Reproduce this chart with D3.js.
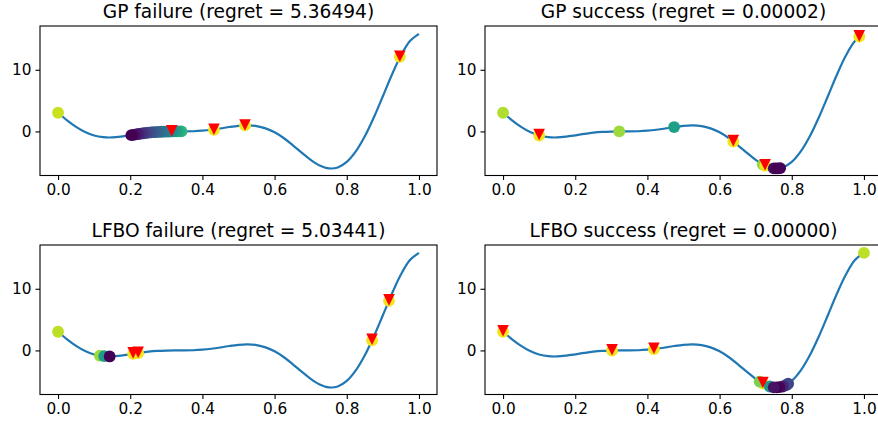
<!DOCTYPE html>
<html>
<head>
<meta charset="utf-8">
<script src="https://cdn.jsdelivr.net/npm/d3@7"></script>
<style>
  body { margin: 0; background: #fff; }
  svg { display: block; font-family: "DejaVu Sans", sans-serif; }
</style>
</head>
<body>
<div id="chart"></div>
<script>
// objective curve
var curveX = [0, 0.025, 0.05, 0.075, 0.1, 0.125, 0.15, 0.175, 0.2, 0.225, 0.25, 0.275, 0.3, 0.325, 0.35, 0.375, 0.4, 0.425, 0.45, 0.475, 0.5,
              0.525, 0.55, 0.575, 0.6, 0.625, 0.65, 0.675, 0.7, 0.725, 0.75, 0.775, 0.8, 0.825, 0.85, 0.875, 0.9, 0.925, 0.95, 0.975, 1];
var curveY = [3.03, 1.81, 0.74, -0.10, -0.66, -0.94, -0.98, -0.85, -0.64, -0.41, -0.21, -0.08, -0.02, 0.0, 0.0, 0.03, 0.12, 0.27, 0.48, 0.72, 0.91,
              0.99, 0.87, 0.50, -0.15, -1.07, -2.21, -3.44, -4.61, -5.52, -5.99, -5.85, -4.95, -3.25, -0.80, 2.27, 5.71, 9.19, 12.30, 14.65, 15.83];

var titles = ["GP failure (regret = 5.36494)", "GP success (regret = 0.00002)",
              "LFBO failure (regret = 5.03441)", "LFBO success (regret = 0.00000)"];

var xTicks = [0, 0.2, 0.4, 0.6, 0.8, 1.0];
var yTicks = [0, 10];

// evaluated points (circles, coloured by viridis value)
var gpFailX = [0, 0.432, 0.518, 0.947, 0.315, 0.342, 0.335, 0.328, 0.321, 0.314, 0.307, 0.3, 0.293, 0.286, 0.279, 0.272, 0.265, 0.258, 0.251, 0.244, 0.237, 0.23, 0.223, 0.216, 0.209, 0.203];
var gpFailY = [3.03, 0.26, 0.97, 12.1, 0.0, 0.0, 0.0, 0.0, 0.0, 0.0, -0.01, -0.02, -0.03, -0.05, -0.07, -0.1, -0.13, -0.16, -0.2, -0.25, -0.3, -0.36, -0.42, -0.48, -0.55, -0.61];
var gpFailC = [0.92, 0.98, 0.98, 0.98, 0.98, 0.66, 0.62, 0.58, 0.54, 0.5, 0.47, 0.44, 0.41, 0.38, 0.35, 0.32, 0.29, 0.26, 0.23, 0.2, 0.16, 0.13, 0.09, 0.06, 0.03, 0.0];
var gpFailTriX = [0.315, 0.432, 0.518, 0.947];
var gpFailTriY = [0.1, 0.35, 1.05, 12.2];

var gpSuccX = [0, 0.1, 0.322, 0.474, 0.638, 0.72, 0.726, 0.987, 0.75, 0.756, 0.762, 0.768];
var gpSuccY = [3.03, -0.66, 0.0, 0.71, -1.64, -5.37, -5.55, 15.38, -5.99, -6.0, -5.99, -5.95];
var gpSuccC = [0.88, 0.98, 0.85, 0.56, 0.98, 0.82, 0.98, 0.98, 0.04, 0.02, 0.0, 0.01];
var gpSuccTriX = [0.1, 0.638, 0.726, 0.987];
var gpSuccTriY = [-0.5, -1.5, -5.4, 15.5];

var lfboFailX = [0, 0.208, 0.222, 0.87, 0.917, 0.116, 0.128, 0.143];
var lfboFailY = [3.03, -0.56, -0.43, 1.62, 8.04, -0.86, -0.93, -0.98];
var lfboFailC = [0.9, 0.98, 0.98, 0.98, 0.98, 0.85, 0.55, 0.0];
var lfboFailTriX = [0.208, 0.222, 0.87, 0.917];
var lfboFailTriY = [-0.4, -0.3, 1.8, 8.2];

var lfboSuccX = [0, 0.302, 0.418, 0.72, 1.0, 0.711, 0.739, 0.79, 0.785, 0.775, 0.766, 0.758, 0.75];
var lfboSuccY = [3.03, -0.01, 0.22, -5.37, 15.83, -5.05, -5.85, -5.41, -5.61, -5.85, -5.96, -6.0, -5.99];
var lfboSuccC = [0.98, 0.98, 0.98, 0.98, 0.9, 0.8, 0.55, 0.22, 0.2, 0.1, 0.02, 0.0, 0.05];
var lfboSuccTriX = [0, 0.302, 0.418, 0.72];
var lfboSuccTriY = [3.2, 0.1, 0.35, -5.2];

var panels = [
    {title: titles[0], cx: gpFailX, cy: gpFailY, cc: gpFailC, tx: gpFailTriX, ty: gpFailTriY},
    {title: titles[1], cx: gpSuccX, cy: gpSuccY, cc: gpSuccC, tx: gpSuccTriX, ty: gpSuccTriY},
    {title: titles[2], cx: lfboFailX, cy: lfboFailY, cc: lfboFailC, tx: lfboFailTriX, ty: lfboFailTriY},
    {title: titles[3], cx: lfboSuccX, cy: lfboSuccY, cc: lfboSuccC, tx: lfboSuccTriX, ty: lfboSuccTriY}
];

var svgWidth = 878;
var svgHeight = 423;
var axW = 397, axH = 149.5;
var lefts = [40, 485];
var tops = [26, 245];

var svg = d3.select("#chart")
    .append("svg")
    .attr("width", svgWidth)
    .attr("height", svgHeight);

var xScale = d3.scaleLinear().domain([-0.05, 1.05]).range([0, axW]);
var yScale = d3.scaleLinear().domain([-7.15, 17.1]).range([axH, 0]);

var line = d3.line()
    .x(function(d, i) { return xScale(curveX[i]); })
    .y(function(d) { return yScale(d); })
    .curve(d3.curveCatmullRom.alpha(0.5));

var tri = "M0,5.8L-5.8,-5.8L5.8,-5.8Z";

panels.forEach(function(p, k) {
    var g = svg.append("g")
        .attr("transform", `translate(${lefts[k % 2]}, ${tops[Math.floor(k / 2)]})`);

    g.append("path")
        .datum(curveY)
        .attr("d", line)
        .attr("fill", "none")
        .attr("stroke", "#1f77b4")
        .attr("stroke-width", 2.2);

    g.selectAll("circle")
        .data(p.cx)
        .enter()
        .append("circle")
        .attr("cx", d => xScale(d))
        .attr("cy", (d, i) => yScale(p.cy[i]))
        .attr("r", 5.9)
        .attr("fill", (d, i) => d3.interpolateViridis(p.cc[i]));

    g.selectAll(".tri")
        .data(p.tx)
        .enter()
        .append("path")
        .attr("class", "tri")
        .attr("d", tri)
        .attr("transform", (d, i) => `translate(${xScale(d)}, ${yScale(p.ty[i])})`)
        .attr("fill", "#ff0000");

    // axes
    var bottomAxis = d3.axisBottom(xScale).tickValues(xTicks).tickFormat(d3.format(".1f")).tickSize(4.5).tickPadding(4);
    var leftAxis = d3.axisLeft(yScale).tickValues(yTicks).tickSize(4.5).tickPadding(4);

    var bx = g.append("g")
        .attr("transform", `translate(0, ${axH})`)
        .call(bottomAxis);
    var ly = g.append("g").call(leftAxis);

    [bx, ly].forEach(function(a) {
        a.select(".domain").remove();
        a.selectAll("line").attr("stroke", "#000").attr("stroke-width", 1.1);
        a.selectAll("text").attr("fill", "#000").style("font-family", "DejaVu Sans").style("font-size", "15.3px");
    });

    g.append("rect")
        .attr("width", axW)
        .attr("height", axH)
        .attr("fill", "none")
        .attr("stroke", "#000")
        .attr("stroke-width", 1.1);

    g.append("text")
        .attr("x", axW / 2)
        .attr("y", -8.5)
        .attr("text-anchor", "middle")
        .style("font-size", "18.6px")
        .text(p.title);
});
</script>
</body>
</html>
